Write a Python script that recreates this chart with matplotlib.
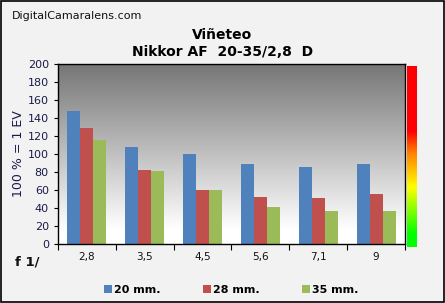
#!/usr/bin/env python

import numpy as np
from matplotlib import pyplot as plt
from matplotlib.colors import LinearSegmentedColormap
from matplotlib.patches import Rectangle

# Data
apertures = ['2,8', '3,5', '4,5', '5,6', '7,1', '9']
series = ['20 mm.', '28 mm.', '35 mm.']
v20 = [148, 108, 100, 89, 86, 89]
v28 = [129, 82, 60, 52, 51, 56]
v35 = [116, 81, 60, 41, 37, 37]
colors = ['#4f81bd', '#c0504d', '#9bbb59']
navy = '#1a1a4a'

fig = plt.figure(figsize=(4.45, 3.03), dpi=100, facecolor='#f2f2f2')
fig.patches.append(Rectangle((0.002, 0.003), 0.995, 0.994, transform=fig.transFigure,
                             fill=False, edgecolor='black', lw=1.2))

ax = fig.add_axes([0.130, 0.195, 0.780, 0.594])
n = len(apertures)
x = np.arange(n)

# gradient background
grad = np.linspace(0, 1, 256).reshape(-1, 1)
gcmap = LinearSegmentedColormap.from_list(
    'g', [(0, '#ffffff'), (0.08, '#ffffff'), (1, '#767676')])
ax.imshow(grad, cmap=gcmap, aspect='auto', extent=(-0.5, n - 0.5, 0, 200),
          origin='lower', zorder=0)

w = 0.225
for i, (vals, c) in enumerate(zip([v20, v28, v35], colors)):
    ax.bar(x + (i - 1) * w, vals, w, color=c, zorder=2, label=series[i])

ax.set_xlim(-0.5, n - 0.5)
ax.set_ylim(0, 200)
ax.set_yticks(range(0, 201, 20))
ax.tick_params(axis='y', labelsize=8, labelcolor=navy, length=3, direction='out')
ax.set_xticks(np.arange(-0.5, n, 1.0))
ax.set_xticklabels([])
ax.tick_params(axis='x', length=4, direction='out')
for i, lab in enumerate(apertures):
    ax.text(i, -14, lab, ha='center', va='center', fontsize=7.5, color='#111111')
ax.set_ylabel('100 % = 1 EV', fontsize=9, color=navy, labelpad=2)
for s in ax.spines.values():
    s.set_linewidth(1.0)

# color scale bar on the right
cax = fig.add_axes([0.914, 0.185, 0.021, 0.597])
cmap = LinearSegmentedColormap.from_list(
    'rg', [(0, '#00ff00'), (0.07, '#00ff00'), (0.33, '#ffff00'), (0.52, '#ff8000'),
           (0.64, '#ff0000'), (1, '#ff0000')])
cax.imshow(grad, cmap=cmap, aspect='auto', origin='lower')
cax.axis('off')

fig.text(0.027, 0.947, 'DigitalCamaralens.com', fontsize=8, color='#111111', va='center')
fig.text(0.50, 0.883, 'Viñeteo', fontsize=10, fontweight='bold', ha='center', va='center')
fig.text(0.50, 0.828, 'Nikkor AF  20-35/2,8  D', fontsize=10, fontweight='bold',
         ha='center', va='center')
fig.text(0.034, 0.135, 'f 1/', fontsize=9.5, fontweight='bold', va='center', color='#111111')

leg = fig.legend(loc='center', bbox_to_anchor=(0.52, 0.042), ncol=3, frameon=False,
                 prop={'size': 8, 'weight': 'bold'}, handlelength=0.7, handleheight=0.7,
                 handletextpad=0.2, columnspacing=3.8)

plt.savefig('out.png', dpi=100, facecolor=fig.get_facecolor())
